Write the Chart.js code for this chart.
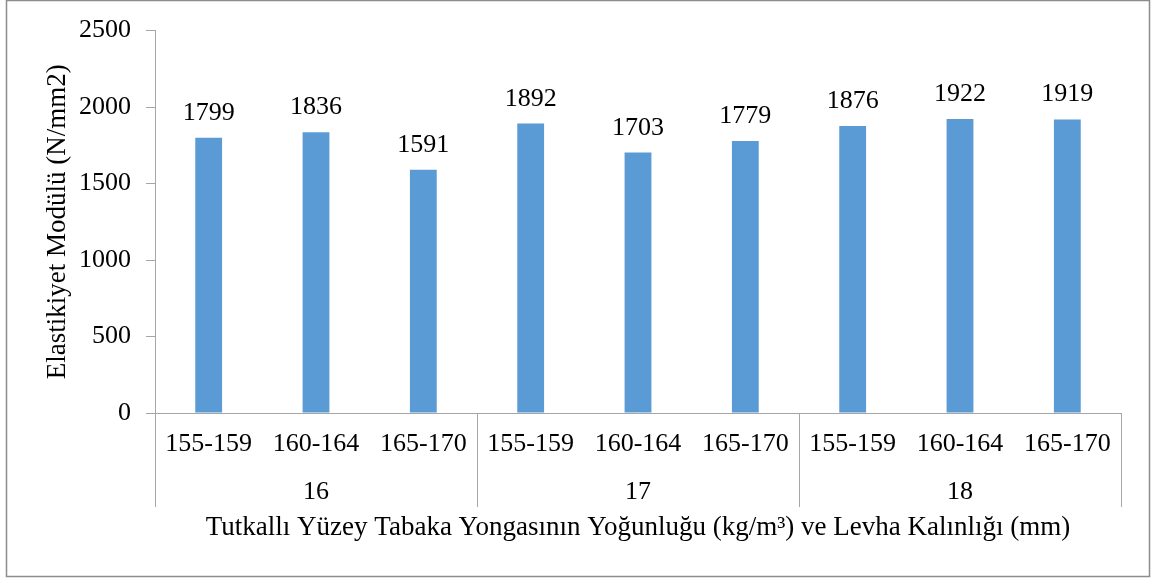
<!DOCTYPE html>
<html><head><meta charset="utf-8">
<script src="https://cdn.jsdelivr.net/npm/chart.js@4.4.0/dist/chart.umd.min.js"></script>
<style>html,body{margin:0;padding:0;background:#fff;}#wrap{width:1152px;height:579px;position:relative;}</style>
</head><body><div id="wrap"><canvas id="c" width="1152" height="579"></canvas></div>
<script>
const subCategories = ['155-159','160-164','165-170','155-159','160-164','165-170','155-159','160-164','165-170'];
const groupLabels = ['16','17','18'];
const groupSize = 3;
const values = [1799,1836,1591,1892,1703,1779,1876,1922,1919];
const yMax = 2500;
const yStep = 500;
const yTitle = 'Elastikiyet Modülü (N/mm2)';
const xTitle = 'Tutkallı Yüzey Tabaka Yongasının Yoğunluğu (kg/m³) ve Levha Kalınlığı (mm)';

const FONT = 'Liberation Serif, "Times New Roman", serif';
const AXIS = '#A6A6A6';

const extras = {
  id: 'extras',
  beforeDraw(chart) {
    const ctx = chart.ctx;
    ctx.save();
    ctx.fillStyle = '#fff';
    ctx.fillRect(0, 0, chart.width, chart.height);
    ctx.strokeStyle = '#8C8C8C';
    ctx.lineWidth = 1.5;
    ctx.strokeRect(6.5, 0.5, 1143, 576);
    ctx.restore();
  },
  afterDraw(chart) {
    const ctx = chart.ctx;
    const xs = chart.scales.x;
    const ca = chart.chartArea;
    ctx.save();
    ctx.strokeStyle = AXIS;
    ctx.lineWidth = 1;
    const bounds = [ca.left];
    for (let g = 1; g < groupLabels.length; g++) {
      const i = g * groupSize;
      bounds.push((xs.getPixelForValue(i - 1) + xs.getPixelForValue(i)) / 2);
    }
    bounds.push(ca.right);
    bounds.forEach(b => {
      const x = Math.round(b) + 0.5;
      ctx.beginPath();
      ctx.moveTo(x, ca.bottom);
      ctx.lineTo(x, ca.bottom + 94);
      ctx.stroke();
    });
    ctx.fillStyle = '#000';
    ctx.font = '26px ' + FONT;
    ctx.textAlign = 'center';
    ctx.textBaseline = 'middle';
    groupLabels.forEach((lab, g) => {
      const cx = (bounds[g] + bounds[g + 1]) / 2;
      ctx.fillText(lab, cx, ca.bottom + 79);
    });
    ctx.textBaseline = 'alphabetic';
    const meta = chart.getDatasetMeta(0);
    meta.data.forEach((el, i) => {
      ctx.fillText(String(values[i]), el.x, el.y - 18);
    });
    ctx.restore();
  }
};

new Chart(document.getElementById('c'), {
  type: 'bar',
  data: {
    labels: subCategories,
    datasets: [{
      data: values,
      backgroundColor: '#5B9BD5',
      borderWidth: 0,
      barPercentage: 0.25,
      categoryPercentage: 1.0
    }]
  },
  options: {
    responsive: false,
    animation: false,
    devicePixelRatio: 1,
    layout: { padding: { top: 29, left: 0, right: 31, bottom: 0 } },
    plugins: { legend: { display: false }, tooltip: { enabled: false } },
    scales: {
      x: {
        position: 'bottom',
        grid: { display: false, drawTicks: false },
        border: { display: true, color: AXIS, width: 1 },
        ticks: { font: { family: FONT, size: 26 }, color: '#000', padding: 16, maxRotation: 0, autoSkip: false },
        title: { display: true, text: xTitle, font: { family: FONT, size: 27 }, color: '#000', padding: { top: 0, bottom: 35 } },
        afterFit(s) { s.height = 166; }
      },
      y: {
        min: 0,
        max: yMax,
        grid: { drawOnChartArea: false, drawTicks: true, tickLength: 9, color: AXIS },
        border: { display: true, color: AXIS, width: 1 },
        ticks: { stepSize: yStep, font: { family: FONT, size: 26 }, color: '#000', padding: 15, callback: v => String(v) },
        title: { display: true, text: yTitle, font: { family: FONT, size: 27 }, color: '#000', padding: { top: 42, bottom: 0 } },
        afterFit(s) { s.width = 155; }
      }
    }
  },
  plugins: [extras]
});
</script>
</body></html>
